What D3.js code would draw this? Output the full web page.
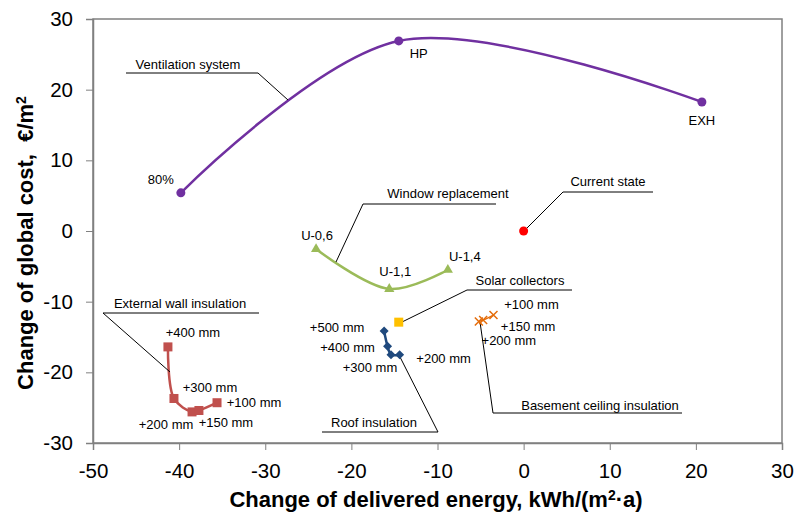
<!DOCTYPE html>
<html>
<head>
<meta charset="utf-8">
<script src="https://cdn.jsdelivr.net/npm/d3@7"></script>
<style>
  body { margin: 0; background: #fff; }
  svg { font-family: "Liberation Sans", Arial, sans-serif; }
</style>
</head>
<body>
<div id="chart"></div>
<script>
// series: [delivered energy change, global cost change]
const ventilation = [[-39.8, 5.4], [-14.5, 26.9], [20.7, 18.25]];
const ventilationLabels = ["80%", "HP", "EXH"];
const windows = [[-24.1, -2.55], [-15.6, -8.2], [-8.8, -5.5]];
const windowLabels = ["U-0,6", "U-1,1", "U-1,4"];
const wall = [[-41.3, -16.4], [-40.6, -23.7], [-38.5, -25.6], [-37.7, -25.4], [-35.6, -24.3]];
const wallLabels = ["+400 mm", "+300 mm", "+200 mm", "+150 mm", "+100 mm"];
const roof = [[-16.2, -14.15], [-15.8, -16.3], [-15.4, -17.5], [-14.4, -17.5]];
const roofLabels = ["+500 mm", "+400 mm", "+300 mm", "+200 mm"];
const basement = [[-5.2, -12.8], [-4.7, -12.6], [-3.5, -11.9]];
const basementLabels = ["+200 mm", "+150 mm", "+100 mm"];
const solar = [[-14.5, -12.9]];
const current = [[0, 0]];
const xTicks = [-50, -40, -30, -20, -10, 0, 10, 20, 30];
const yTicks = [-30, -20, -10, 0, 10, 20, 30];

const width = 797, height = 512;
const margin = {top: 19, right: 15, bottom: 69, left: 93};

const svg = d3.select("#chart").append("svg")
  .attr("width", width)
  .attr("height", height);

const x = d3.scaleLinear().domain([-50, 30]).range([margin.left, width - margin.right]);
const y = d3.scaleLinear().domain([-30, 30]).range([height - margin.bottom, margin.top]);

// plot frame
svg.append("rect")
  .attr("x", x(-50)).attr("y", y(30))
  .attr("width", x(30) - x(-50)).attr("height", y(-30) - y(30))
  .attr("fill", "none").attr("stroke", "#808080").attr("stroke-width", 1.5);

// axes (plain hyphen minus like the original)
const fmt = function(d) { return String(d); };
const xAxis = svg.append("g")
  .attr("transform", "translate(0," + y(-30) + ")")
  .call(d3.axisBottom(x).tickValues(xTicks).tickFormat(fmt).tickSize(7).tickPadding(13));
const yAxis = svg.append("g")
  .attr("transform", "translate(" + x(-50) + ",0)")
  .call(d3.axisLeft(y).tickValues(yTicks).tickFormat(fmt).tickSize(7).tickPadding(13));
[xAxis, yAxis].forEach(function(a) {
  a.select(".domain").attr("stroke", "#808080").attr("stroke-width", 1.5);
  a.selectAll(".tick line").attr("stroke", "#808080");
  a.selectAll(".tick text").attr("font-size", 20.5).attr("fill", "#000")
    .attr("font-family", "Liberation Sans, Arial, sans-serif");
});

// axis titles
svg.append("text")
  .attr("x", 436).attr("y", 507)
  .attr("text-anchor", "middle").attr("font-size", 22).attr("font-weight", "bold")
  .html("Change of delivered energy, kWh/(m<tspan dy='-7' font-size='14'>2</tspan><tspan dy='7'>·a)</tspan>");
svg.append("text")
  .attr("transform", "translate(33,243) rotate(-90)")
  .attr("text-anchor", "middle").attr("font-size", 22).attr("font-weight", "bold")
  .style("white-space", "pre")
  .html("Change of global cost,  €/m<tspan dy='-7' font-size='14'>2</tspan>");

const line = d3.line()
  .x(function(d) { return x(d[0]); })
  .y(function(d) { return y(d[1]); })
  .curve(d3.curveCatmullRom.alpha(0.5));

function series(data, color, w) {
  svg.append("path").datum(data)
    .attr("d", line).attr("fill", "none")
    .attr("stroke", color).attr("stroke-width", w);
}

// callout leaders (drawn under marks)
const callouts = [
  {text: "Ventilation system", tx: 188, ty: 69, line: [[288, 100], [258, 73], [126, 73]]},
  {text: "Window replacement", tx: 448, ty: 198, line: [[336, 262], [363, 204], [496, 204]]},
  {text: "Current state", tx: 608, ty: 186, line: [[524, 231], [563, 192], [653, 192]]},
  {text: "Solar collectors", tx: 520, ty: 285, line: [[402, 322], [467, 290], [572, 290]]},
  {text: "External wall insulation", tx: 180, ty: 308, line: [[170, 372], [103, 313], [259, 313]]},
  {text: "Roof insulation", tx: 374, ty: 427, line: [[399, 355], [438, 432], [322, 432]]},
  {text: "Basement ceiling insulation", tx: 600, ty: 410, line: [[480, 322], [493, 413], [682, 413]]}
];

series(ventilation, "#7030A0", 2.5);
series(windows, "#9BBB59", 2.5);
series(wall, "#C0504D", 2.5);
series(roof, "#1F497D", 2.5);
series(basement, "#E46C0A", 1.5);

callouts.forEach(function(c) {
  svg.append("path")
    .attr("d", d3.line()(c.line))
    .attr("fill", "none").attr("stroke", "#000").attr("stroke-width", 1);
  svg.append("text")
    .attr("x", c.tx).attr("y", c.ty)
    .attr("text-anchor", "middle").attr("font-size", 13).attr("fill", "#000")
    .text(c.text);
});

// markers
svg.selectAll(".vent").data(ventilation).enter().append("circle")
  .attr("cx", function(d) { return x(d[0]); }).attr("cy", function(d) { return y(d[1]); })
  .attr("r", 4.5).attr("fill", "#7030A0");
svg.selectAll(".cur").data(current).enter().append("circle")
  .attr("cx", function(d) { return x(d[0]); }).attr("cy", function(d) { return y(d[1]); })
  .attr("r", 4.5).attr("fill", "#FF0000");
svg.selectAll(".win").data(windows).enter().append("path")
  .attr("transform", function(d) { return "translate(" + x(d[0]) + "," + y(d[1]) + ")"; })
  .attr("d", d3.symbol(d3.symbolTriangle, 45)).attr("fill", "#9BBB59");
svg.selectAll(".wall").data(wall).enter().append("rect")
  .attr("x", function(d) { return x(d[0]) - 4.5; }).attr("y", function(d) { return y(d[1]) - 4.5; })
  .attr("width", 9).attr("height", 9).attr("fill", "#C0504D");
svg.selectAll(".solar").data(solar).enter().append("rect")
  .attr("x", function(d) { return x(d[0]) - 4.5; }).attr("y", function(d) { return y(d[1]) - 4.5; })
  .attr("width", 9).attr("height", 9).attr("fill", "#FFC000");
svg.selectAll(".roof").data(roof).enter().append("path")
  .attr("transform", function(d) { return "translate(" + x(d[0]) + "," + y(d[1]) + ")"; })
  .attr("d", "M0,-4.5L4.5,0L0,4.5L-4.5,0Z").attr("fill", "#1F497D");
svg.selectAll(".base").data(basement).enter().append("path")
  .attr("transform", function(d) { return "translate(" + x(d[0]) + "," + y(d[1]) + ")"; })
  .attr("d", "M-4,-4L4,4M-4,4L4,-4").attr("stroke", "#E46C0A").attr("stroke-width", 1.5);

// point labels: [dx, dy] offsets from the point
function labels(data, names, offsets) {
  svg.selectAll(null).data(data).enter().append("text")
    .attr("x", function(d, i) { return x(d[0]) + offsets[i][0]; })
    .attr("y", function(d, i) { return y(d[1]) + offsets[i][1]; })
    .attr("text-anchor", "middle").attr("font-size", 13).attr("fill", "#000")
    .text(function(d, i) { return names[i]; });
}
labels(ventilation, ventilationLabels, [[-20, -9], [20, 17], [0, 23]]);
labels(windows, windowLabels, [[1, -9], [6, -13], [17, -9]]);
labels(wall, wallLabels, [[25, -10], [36, -6], [-26, 17], [27, 17], [37, 4]]);
labels(roof, roofLabels, [[-47, 1], [-40, 6], [-21, 17], [44, 8]]);
labels(basement, basementLabels, [[30, 24], [45, 11], [38, -6]]);
</script>
</body>
</html>
